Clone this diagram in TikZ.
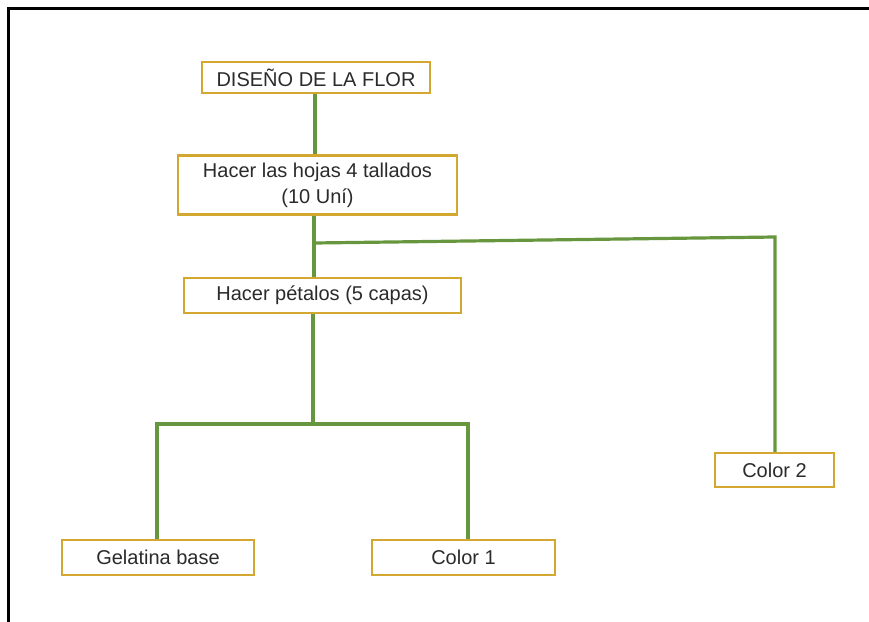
\documentclass[tikz,border=0pt]{standalone}
\usepackage{fontspec}
\setmainfont{Liberation Sans}
\begin{document}
\definecolor{linkgreen}{HTML}{66973E}
\definecolor{boxgold}{HTML}{D4A830}
\definecolor{textgray}{HTML}{2B2B2B}
\begin{tikzpicture}[x=1pt,y=-1pt,
  stepbox/.style={draw=boxgold, line width=2.2pt, fill=white, inner sep=0pt,
    text=textgray, font=\fontsize{20}{26}\selectfont, align=center},
  link/.style={draw=linkgreen, line width=3.2pt, line join=miter}]
\useasboundingbox[fill=white] (0,0) rectangle (869,621);
% page frame
\draw[line width=2.4pt] (8.5,640) -- (8.5,8.5) -- (890,8.5);

% boxes
\node[stepbox, minimum width=228pt, minimum height=31pt] (top) at (316,77.5) {DISEÑO DE LA FLOR};
\node[stepbox, minimum width=279pt, minimum height=59pt] (hojas) at (317.5,185) {Hacer las hojas 4 tallados\\(10 Uní)};
\node[stepbox, minimum width=277pt, minimum height=35pt] (petalos) at (322.5,295.5) {Hacer pétalos (5 capas)};
\node[stepbox, minimum width=192pt, minimum height=35pt] (gelatina) at (158,557.5) {Gelatina base};
\node[stepbox, minimum width=183pt, minimum height=35pt] (color1) at (463.5,557.5) {Color 1};
\node[stepbox, minimum width=119pt, minimum height=34pt] (color2) at (774.5,470) {Color 2};

% junction points
\coordinate (j1) at (314,243);
\coordinate (j2) at (775,237);
\coordinate (j3) at (313,424);
\coordinate (jl) at (157,424);
\coordinate (jr) at (468,424);

% connectors
\draw[link] (top.south -| 315,0) -- (hojas.north -| 315,0);
\draw[link] (hojas.south -| j1) -- (petalos.north -| j1);
\draw[link] (j1) -- (j2) -- (color2.north -| j2);
\draw[link] (petalos.south -| j3) -- (j3);
\draw[link] (gelatina.north -| jl) -- (jl) -- (jr) -- (color1.north -| jr);
\end{tikzpicture}
\end{document}
